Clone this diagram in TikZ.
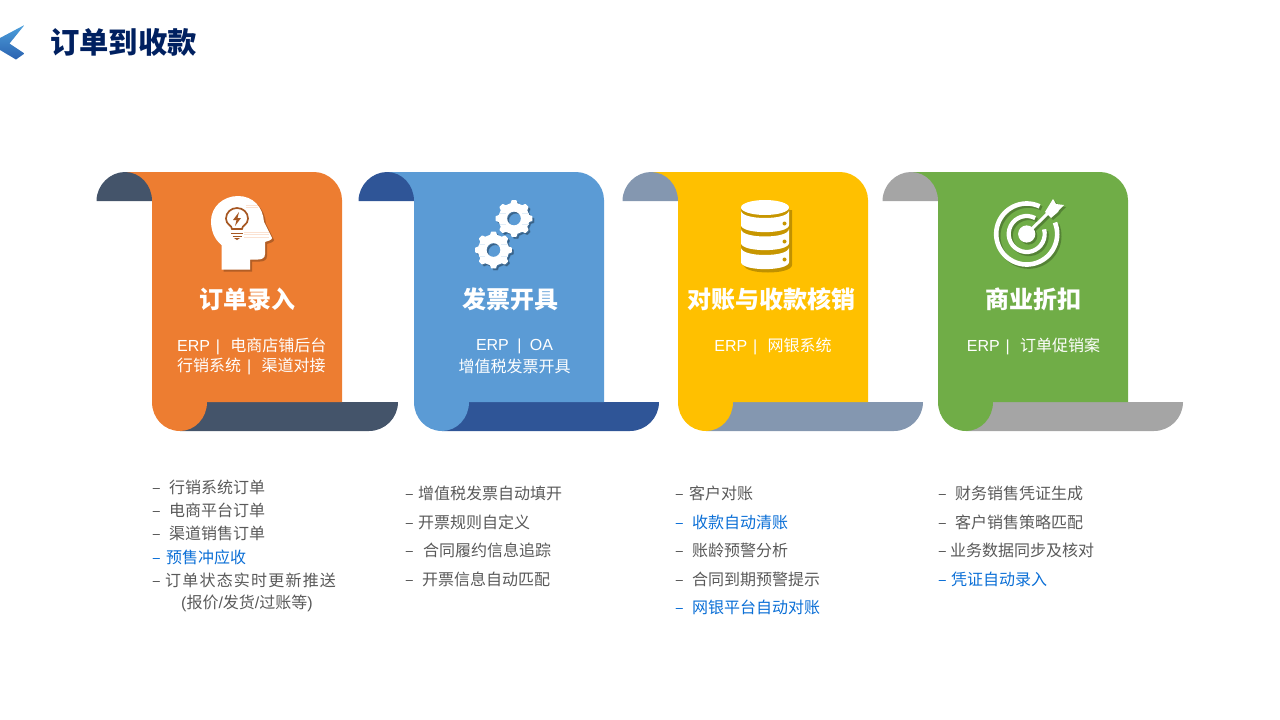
\documentclass[tikz,border=0pt]{standalone}
\usepackage{fontspec}
\setmainfont{Noto Sans CJK SC}
\newfontfamily\ltn{Liberation Sans}
\usetikzlibrary{calc}
\definecolor{cOrange}{HTML}{ED7D31}\definecolor{cSlate}{HTML}{44546A}
\definecolor{cBlue}{HTML}{5B9BD5}\definecolor{cNavy}{HTML}{2F5597}
\definecolor{cGold}{HTML}{FFC000}\definecolor{cSteel}{HTML}{8497B0}
\definecolor{cGreen}{HTML}{70AD47}\definecolor{cGrey}{HTML}{A5A5A5}
\definecolor{cText}{HTML}{595959}\definecolor{cLink}{HTML}{0B6FD6}
\definecolor{cTitle}{HTML}{002060}
\definecolor{cLogoA}{HTML}{4C9FDB}\definecolor{cLogoB}{HTML}{2B62B0}
\tikzset{
  cardtitle/.style={text=white,font=\fontsize{24}{28}\selectfont\bfseries,inner sep=0pt},
  cardsub/.style={text=white,font=\fontsize{16}{20}\selectfont,inner sep=0pt,align=center},
  item/.style={text=cText,font=\fontsize{16}{20}\selectfont,anchor=west,inner sep=0pt},
  link/.style={item,text=cLink},
  softshadow/.style={opacity=.35}
}
\newcommand{\cardshape}[4]{%
  \begin{scope}[shift={(#1,0)}]
    \fill[#3] (28,402) -- (#4+190,402) .. controls (#4+190,418) and (#4+177,431) .. (#4+161,431) -- (28,431) -- cycle;
    \fill[#2] (-27,172) -- (162,172) .. controls (177,172) and (190,185) .. (190,200) -- (190,402) -- (55,402)
      .. controls (55,418) and (43,431) .. (28,431) .. controls (12,431) and (0,418) .. (0,402) -- (0,201) -- cycle;
    \fill[#3] (-55.5,201) .. controls (-55.5,185) and (-42,172) .. (-27,172) .. controls (-12,172) and (0,185) .. (0,201) -- cycle;
  \end{scope}}
\newcommand{\headpath}{(221.5,269.5) -- (221.5,245) .. controls (214,239) and (211,230) .. (211,221)
  .. controls (211,207) and (223,196) .. (238,196) .. controls (253,196) and (263,207) .. (264,222)
  -- (272,238) .. controls (272,240) and (268,241) .. (265,242) -- (265,254)
  .. controls (265,258) and (262,259.5) .. (258,259.5) -- (250,259.5) -- (250,269.5) -- cycle}
\newcommand{\gearpath}[2]{($(#1,#2)+(-11:15)$)
  \foreach \a in {0,45,...,315}{ -- ($(#1,#2)+(\a-11:15)$) -- ($(#1,#2)+(\a-6:17.8)$) -- ($(#1,#2)+(\a+6:17.8)$) -- ($(#1,#2)+(\a+11:15)$) } -- cycle
  (#1,#2) circle[radius=7.6pt]}
\newcommand{\gears}[1]{\fill[#1,even odd rule,draw=#1,line width=1.4pt,line join=round] \gearpath{514}{218.5};\fill[#1,even odd rule,draw=#1,line width=1.4pt,line join=round] \gearpath{493.5}{250};}
\newcommand{\targeticon}[1]{%
  \begin{scope}[#1]
    \draw[line width=4.6pt] ($(1026.7,234)+(65:30.5pt)$) arc[start angle=65,end angle=382,radius=30.5pt];
    \draw[line width=4.2pt] ($(1026.7,234)+(62:18pt)$) arc[start angle=62,end angle=375,radius=18pt];
    \fill (1026.7,234) circle[radius=8.6pt];
    \draw[line width=3pt] (1026.7,234) -- (1048,213);
    \fill (1045,212) -- (1053,199) -- (1056,204) -- (1064,205) -- (1059,210) -- (1058,212) -- (1051,218) -- cycle;
  \end{scope}}
\newcommand{\li}[2]{\makebox[#1pt][l]{–}#2}
\newcommand{\sep}{{\ltn\hspace{5.9pt}|\hspace{5.9pt}}}
\newcommand{\sepw}{{\ltn\hspace{8.4pt}|\hspace{8.4pt}}}
\begin{document}
\begin{tikzpicture}[x=1pt,y=-1pt]
\useasboundingbox (0,0) rectangle (1280,720);
% logo
\shade[top color=cLogoA,bottom color=cLogoB] (24.5,25) -- (9.5,43.5) -- (24.5,53.5) -- (16,59.5) -- (0,50) -- (0,38) -- cycle;
\node[anchor=west,inner sep=0pt,text=cTitle,font=\fontsize{29.3}{34}\selectfont\bfseries] (title) at (50,42.5) {订单到收款};
% cards
\cardshape{152}{cOrange}{cSlate}{56}
\cardshape{414}{cBlue}{cNavy}{55}
\cardshape{678}{cGold}{cSteel}{55}
\cardshape{938}{cGreen}{cGrey}{55}
% head icon
\begin{scope}[shift={(2,2)},softshadow]\fill[black!70!cOrange] \headpath;\end{scope}
\fill[white] \headpath;
\foreach \y in {205,207}{\draw[cOrange!22!white,line width=.4pt] (246,\y) -- (258,\y);}
\foreach \y in {232,234,237}{\draw[cOrange!22!white,line width=.4pt] (244,\y) -- (269,\y);}
\draw[cOrange!70!black,line width=1.7pt] (232,229) .. controls (232,225) and (226,225) .. (226,218.5) .. controls (226,212.5) and (231,208) .. (237,208) .. controls (243,208) and (248,212.5) .. (248,218.5) .. controls (248,225) and (242,225) .. (242,229) -- cycle;
\fill[cOrange!70!black] (239,212) -- (233,220) -- (236.5,220) -- (235,226) -- (241,218) -- (237.5,218) -- cycle;
\draw[cOrange!70!black,line width=1pt] (231,233) -- (243,233) (232.5,236) -- (241.5,236);
\fill[cOrange!70!black] (234,238) -- (240,238) -- (237,240) -- cycle;
% gears
\begin{scope}[shift={(2,2)},softshadow]\gears{black!70!cBlue}\end{scope}
\gears{white}
\foreach \y in {213,224}{\draw[cBlue!18!white,line width=.3pt] (500,\y) -- (506,\y) (522,\y) -- (529,\y);}
\foreach \y in {244,256}{\draw[cBlue!18!white,line width=.3pt] (479,\y) -- (485,\y) (501,\y) -- (508,\y);}
% database
\begin{scope}[shift={(3,3)},softshadow]
  \fill[black!70!cGold] (741,207) -- (741,262) .. controls (741,272) and (789,272) .. (789,262) -- (789,207) -- cycle;
\end{scope}
\fill[cGold!78!black] (741,207) -- (741,262) .. controls (741,272) and (789,272) .. (789,262) -- (789,207) -- cycle;
\foreach \t/\b in {210.5/225,229/243,247.5/262}{
  \fill[white] (741,\t) .. controls (741,\t+10) and (789,\t+10) .. (789,\t) -- (789,\b) .. controls (789,\b+9.5) and (741,\b+9.5) .. (741,\b) -- cycle;}
\fill[white] (765,207.5) ellipse[x radius=24pt,y radius=7.5pt];
\foreach \y in {223.5,241.5,259.5}{\fill[cGold!78!black] (784.5,\y) circle[radius=2pt];}
% target
\targeticon{shift={(2,2)},draw=black!70!cGreen,fill=black!70!cGreen,softshadow}
\targeticon{draw=white,fill=white}
% card text
\node[cardtitle] (t1) at (247.5,299) {订单录入};
\node[cardtitle] (t2) at (510,299) {发票开具};
\node[cardtitle] (t3) at (771.5,299) {对账与收款核销};
\node[cardtitle] (t4) at (1033.5,299) {商业折扣};
\node[cardsub,anchor=west] (s1a) at (177,346) {{\ltn ERP}\sep\hspace{4.4pt}电商店铺后台};
\node[cardsub,anchor=west] (s1b) at (177,366) {行销系统\sep\hspace{4.4pt}渠道对接};
\node[cardsub] (s2a) at (514.5,346) {{\ltn ERP}\sepw{\ltn OA}};
\node[cardsub] (s2b) at (514.5,366) {增值税发票开具};
\node[cardsub] (s3a) at (773,346) {{\ltn ERP}\sep\hspace{4.4pt}网银系统};
\node[cardsub] (s4a) at (1033.5,346) {{\ltn ERP}\sep\hspace{4.4pt}订单促销案};
% lists
\node[item] (a1) at (152,487.5) {\li{17}{行销系统订单}};
\node[item] (a2) at (152,510.5) {\li{17}{电商平台订单}};
\node[item] (a3) at (152,533.5) {\li{17}{渠道销售订单}};
\node[link] (a4) at (152,557.5) {\li{14}{预售冲应收}};
\node[item] (a5) at (152,580.5) {\li{13}{\addfontfeature{LetterSpace=7.5}订单状态实时更新推送}};
\node[item] (a6) at (181,603.5) {{\ltn (}报价{\ltn /}发货{\ltn /}过账等{\ltn )}};
\node[item] (b1) at (405,493.5) {\li{13}{增值税发票自动填开}};
\node[item] (b2) at (405,522) {\li{13}{开票规则自定义}};
\node[item] (b3) at (405,550) {\li{18}{合同履约信息追踪}};
\node[item] (b4) at (405,579) {\li{17}{开票信息自动匹配}};
\node[item] (c1) at (675,493.5) {\li{14}{客户对账}};
\node[link] (c2) at (675,522) {\li{17}{收款自动清账}};
\node[item] (c3) at (675,550) {\li{17}{账龄预警分析}};
\node[item] (c4) at (675,579) {\li{17}{合同到期预警提示}};
\node[link] (c5) at (675,607) {\li{17}{网银平台自动对账}};
\node[item] (d1) at (938,493.5) {\li{17}{财务销售凭证生成}};
\node[item] (d2) at (938,522) {\li{17}{客户销售策略匹配}};
\node[item] (d3) at (938,550) {\li{12}{业务数据同步及核对}};
\node[link] (d4) at (938,579) {\li{13}{凭证自动录入}};
\end{tikzpicture}
\end{document}
